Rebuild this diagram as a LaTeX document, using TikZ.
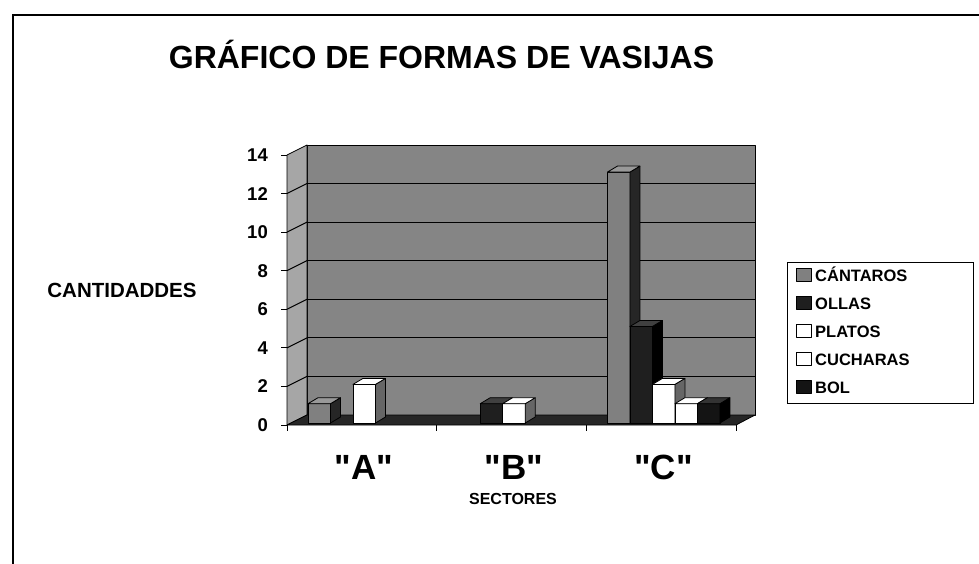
\documentclass[tikz,border=0pt]{standalone}
\usepackage{fontspec}
\setmainfont{Liberation Sans}
\usepackage{tikz}
\usetikzlibrary{positioning, calc}
\usepackage{xcolor}
\colorlet{wall-back}{black!48}
\colorlet{wall-side}{black!35}
\colorlet{wall-floor}{black!85}
% bar faces: front, side, top
\colorlet{front0}{black!50}\colorlet{side0}{black!85}\colorlet{top0}{black!40}
\colorlet{front1}{black!88}\colorlet{side1}{black}\colorlet{top1}{black!75}
\colorlet{front2}{white}\colorlet{side2}{black!60}\colorlet{top2}{white}
\colorlet{front3}{white}\colorlet{side3}{black!60}\colorlet{top3}{white}
\colorlet{front4}{black!92}\colorlet{side4}{black}\colorlet{top4}{black!80}

\begin{document}
\begin{tikzpicture}[x=1pt, y=-1pt, font=\bfseries,
	face/.style={draw=black, line width=0.8pt, line join=round},
	grid/.style={black, line width=1pt},
	axlabel/.style={font=\fontsize{18.5}{20}\selectfont\bfseries, anchor=base east, inner sep=0pt},
	catlabel/.style={font=\fontsize{35}{37}\selectfont\bfseries, anchor=base, inner sep=0pt},
	legtext/.style={font=\fontsize{16.5}{18}\selectfont\bfseries, anchor=base west, inner sep=0pt}]
	\useasboundingbox (0,0) rectangle (979,564);
	% outer frame (runs off the page right and below)
	\draw[line width=1.6pt] (13,564) -- (13,15) -- (979,15);
	\node[anchor=base, inner sep=0pt, font=\fontsize{32}{34}\selectfont\bfseries] (title) at (441.5,69) {GRÁFICO DE FORMAS DE VASIJAS};
	\node[anchor=base, inner sep=0pt, font=\fontsize{20.5}{22}\selectfont\bfseries] (ylabel) at (122,297) {CANTIDADDES};
	\node[anchor=base, inner sep=0pt, font=\fontsize{16}{18}\selectfont\bfseries] (xlabel) at (513,504) {SECTORES};
	% walls
	\filldraw[face, fill=wall-back] (307,145) rectangle (755,415);
	\filldraw[face, fill=wall-side] (287,425) -- (287,155) -- (307,145) -- (307,415) -- cycle;
	\filldraw[face, fill=wall-floor] (287,425) -- (307,415) -- (755,415) -- (736,425) -- cycle;
	\foreach \v in {2,4,...,12}{
		\draw[grid] (307,415-19.29*\v) -- (755,415-19.29*\v);
		\draw[grid] (287,425-19.29*\v) -- (307,415-19.29*\v);
	}
	% value axis
	\foreach \v in {0,2,...,14}{
		\draw[line width=0.8pt] (281,425-19.29*\v) -- (287,425-19.29*\v);
		\node[axlabel] (y\v) at (268,431.5-19.29*\v) {\v};
	}
	% sector axis
	\foreach \x in {287,436.7,586.3,736}
		\draw[line width=0.8pt] (\x,425) -- (\x,431);
	\foreach \s [count=\k from 0] in {A,B,C}
		\node[catlabel] (cat\s) at (364+149.7*\k,479) {\textquotedbl\s\textquotedbl};
	% bars
	\foreach \k/\vals in {0/{1,0,2,0,0}, 1/{0,1,1,0,0}, 2/{13,5,2,1,1}}{
		\foreach \v [count=\i from 0] in \vals{
			\ifnum\v>0
				\pgfmathsetmacro\bx{308+149.7*\k+22.5*\i}
				\pgfmathsetmacro\by{423-19.3*\v}
				\filldraw[face, fill=front\i] (\bx,423) rectangle (\bx+22.5,\by);
				\filldraw[face, fill=side\i] (\bx+22.5,423) -- ++(10,-6) -- (\bx+32.5,\by-6) -- (\bx+22.5,\by) -- cycle;
				\filldraw[face, fill=top\i] (\bx,\by) -- (\bx+22.5,\by) -- ++(10,-6) -- (\bx+10,\by-6) -- cycle;
			\fi
		}
	}
	% legend
	\draw[line width=1pt] (787,262) rectangle (973,403);
	\foreach \t [count=\i from 0] in {CÁNTAROS,OLLAS,PLATOS,CUCHARAS,BOL}{
		\filldraw[face, fill=front\i] (796,268+28*\i) rectangle (811,281+28*\i);
		\node[legtext] (leg\i) at (815,281.5+28*\i) {\t};
	}
\end{tikzpicture}
\end{document}
